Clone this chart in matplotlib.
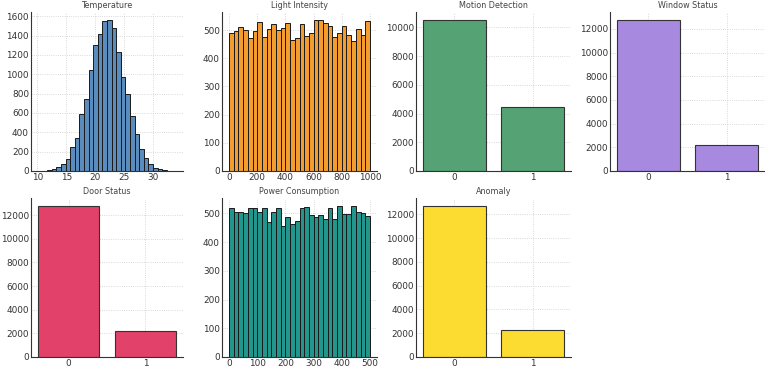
import matplotlib
matplotlib.use('Agg')
import matplotlib.pyplot as plt
import numpy as np

# histogram counts (30 bins each)
temp_range = (10.1, 33.9)
temp_counts = [5, 3, 10, 20, 40, 70, 120, 245, 340, 590, 740, 1045, 1300, 1420, 1555,
               1565, 1480, 1235, 975, 795, 565, 380, 225, 130, 75, 30, 20, 8, 3, 2]

light_range = (0, 1000)
light_counts = [490, 498, 512, 500, 470, 495, 530, 475, 505, 522, 500, 508, 525, 465, 470,
                520, 480, 490, 535, 537, 525, 515, 475, 490, 513, 483, 460, 503, 483, 532]

power_range = (0, 500)
power_counts = [517, 503, 505, 502, 517, 520, 503, 518, 470, 503, 520, 457, 488, 463, 475,
                520, 523, 493, 488, 493, 480, 517, 482, 527, 497, 498, 525, 505, 500, 490]

# binary value counts
binary_labels = ['0', '1']
motion_counts = [10550, 4450]
window_counts = [12780, 2220]
door_counts = [12800, 2200]
anomaly_counts = [12750, 2250]

plt.rcParams['font.family'] = 'DejaVu Sans'

fig = plt.figure(figsize=(7.65, 3.69), dpi=100)
W, H = 765, 369
lefts = [31, 222, 416, 610]
widths = [152, 155, 155, 155]
rows = [(12, 171), (198, 357)]


def make_ax(col, row):
    top, bot = rows[row]
    ax = fig.add_axes([lefts[col] / W, (H - bot) / H, widths[col] / W, (bot - top) / H])
    for s in ['top', 'right']:
        ax.spines[s].set_visible(False)
    for s in ['left', 'bottom']:
        ax.spines[s].set_color('#333333')
        ax.spines[s].set_linewidth(0.8)
    ax.grid(True, linestyle=':', color='#cccccc', linewidth=0.6)
    ax.set_axisbelow(True)
    ax.tick_params(length=0, labelsize=6.4, colors='#333333', pad=1.5)
    return ax


def hist_panel(ax, rng, counts, color, title, xticks, yticks):
    edges = np.linspace(rng[0], rng[1], len(counts) + 1)
    ax.bar(edges[:-1], counts, width=np.diff(edges), align='edge',
           color=color, edgecolor='#1a1a1a', linewidth=0.7)
    ax.set_xticks(xticks)
    ax.set_yticks(yticks)
    ax.set_title(title, fontsize=5.8, color='#444444', pad=3)


def bar_panel(ax, counts, color, title, yticks):
    ax.bar(binary_labels, counts, width=0.8, color=color,
           edgecolor='#333333', linewidth=0.8)
    ax.set_yticks(yticks)
    ax.set_title(title, fontsize=5.8, color='#444444', pad=3)


hist_panel(make_ax(0, 0), temp_range, temp_counts, '#5a8dbd', 'Temperature',
           range(10, 31, 5), range(0, 1601, 200))
hist_panel(make_ax(1, 0), light_range, light_counts, '#f39c2f', 'Light Intensity',
           range(0, 1001, 200), range(0, 501, 100))
bar_panel(make_ax(2, 0), motion_counts, '#55a374', 'Motion Detection', range(0, 10001, 2000))
bar_panel(make_ax(3, 0), window_counts, '#a789e0', 'Window Status', range(0, 12001, 2000))
bar_panel(make_ax(0, 1), door_counts, '#e2416a', 'Door Status', range(0, 12001, 2000))
hist_panel(make_ax(1, 1), power_range, power_counts, '#22958c', 'Power Consumption',
           range(0, 501, 100), range(0, 501, 100))
bar_panel(make_ax(2, 1), anomaly_counts, '#fddc32', 'Anomaly', range(0, 12001, 2000))

fig.savefig('out.png', dpi=100)
